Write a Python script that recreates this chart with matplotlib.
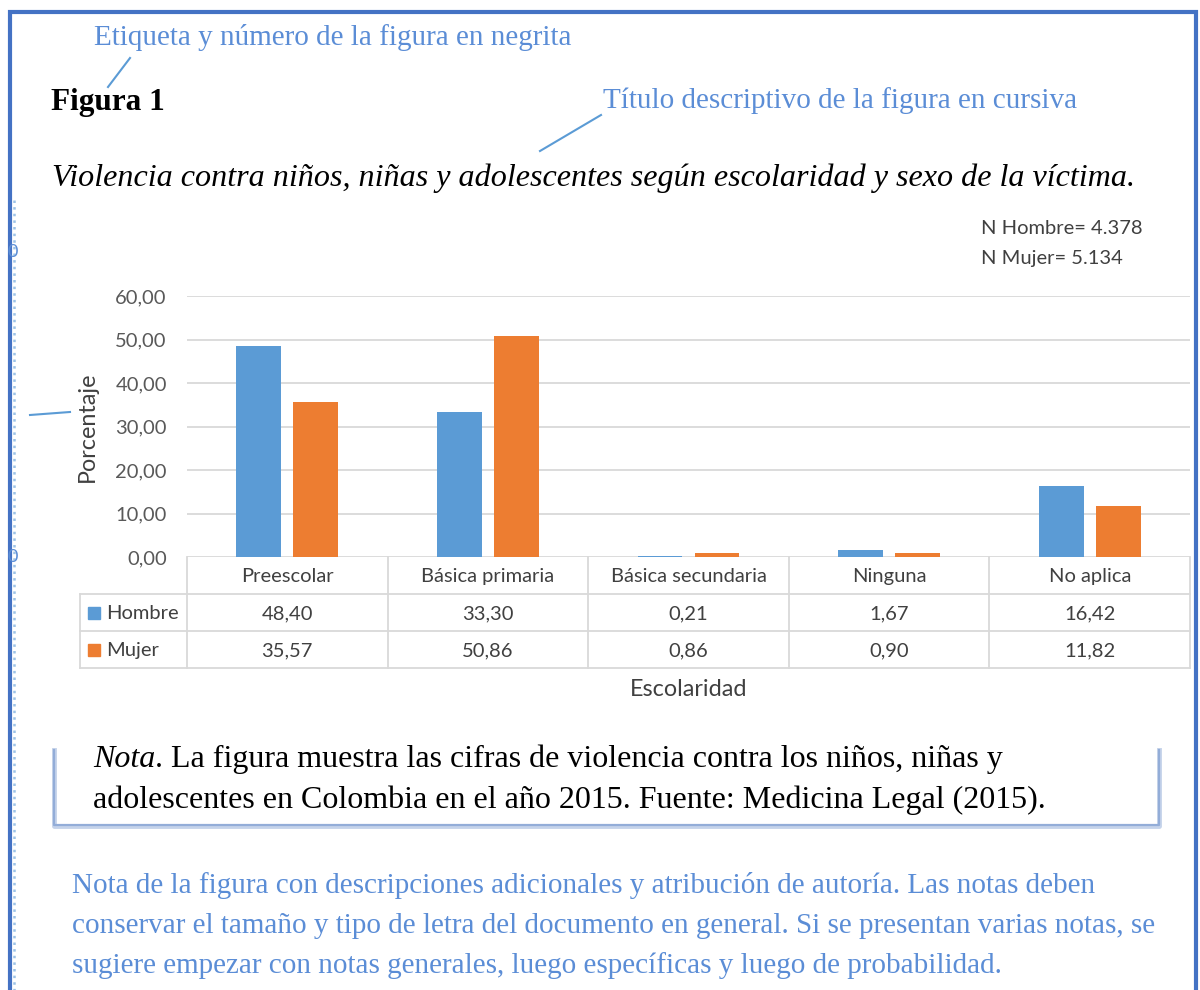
import matplotlib
matplotlib.use("Agg")
import matplotlib.pyplot as plt
from matplotlib.transforms import blended_transform_factory
from matplotlib.patches import Rectangle
import numpy as np

# data
categorias = ["Preescolar", "Básica primaria", "Básica secundaria", "Ninguna", "No aplica"]
hombre = [48.40, 33.30, 0.21, 1.67, 16.42]
mujer = [35.57, 50.86, 0.86, 0.90, 11.82]
series = ["Hombre", "Mujer"]
yticks = [0, 10, 20, 30, 40, 50, 60]

# colours / fonts
c_hombre = "#5B9BD5"
c_mujer = "#ED7D31"
c_blue_txt = "#5B8DD6"
c_frame = "#4472C4"
c_grid = "#D9D9D9"
c_txt = "#404040"
serif = "Liberation Serif"
sans = "Lato"

W, H = 1200, 990
fig = plt.figure(figsize=(W / 100, H / 100), dpi=100)

# overlay axes in pixel coordinates for the document parts
ov = fig.add_axes([0, 0, 1, 1])
ov.set_xlim(0, W)
ov.set_ylim(H, 0)
ov.axis("off")
ov.set_zorder(0)

# chart axes
x0, x1, ytop, ybot = 187, 1190, 296, 557
ax = fig.add_axes([x0 / W, 1 - ybot / H, (x1 - x0) / W, (ybot - ytop) / H])
ax.set_zorder(1)
ax.patch.set_alpha(0)
x = np.arange(len(categorias))
bw = 0.224
off = 0.142
ax.bar(x - off, hombre, bw, color=c_hombre, zorder=3)
ax.bar(x + off, mujer, bw, color=c_mujer, zorder=3)
ax.set_xlim(-0.5, len(categorias) - 0.5)
ax.set_ylim(0, 60)
ax.set_yticks(yticks)
ax.set_yticklabels([f"{v:.2f}".replace(".", ",") for v in yticks],
                   fontfamily=sans, fontsize=14.5, color="#595959")
ax.tick_params(axis="y", length=0, pad=14.5)
ax.set_xticks([])
ax.grid(axis="y", color=c_grid, lw=1.3, zorder=0)
for s in ax.spines.values():
    s.set_visible(False)
ax.set_ylabel("Porcentaje", fontfamily=sans, fontsize=16.8, color=c_txt, va="center")
ax.yaxis.set_label_coords((87 - x0) / (x1 - x0), 0.5)

# data table under the chart (x from category scale, y in pixels)
tr = blended_transform_factory(ax.transData, ov.transData)
rows = [557, 594, 631, 668]
left_leg = 80
edges = np.arange(len(categorias) + 1) - 0.5
for e in edges:
    ov.plot([e, e], [rows[0], rows[-1]], color=c_grid, lw=1.3, transform=tr)
ov.plot([left_leg, left_leg], [rows[1], rows[-1]], color=c_grid, lw=1.3)
for r in rows[1:]:
    ov.plot([left_leg, x1], [r, r], color=c_grid, lw=1.3)
for i, cat in enumerate(categorias):
    ov.text(i, (rows[0] + rows[1]) / 2 + 1, cat, transform=tr, ha="center", va="center",
            fontfamily=sans, fontsize=14.5, color=c_txt)
    ov.text(i, (rows[1] + rows[2]) / 2 + 1, f"{hombre[i]:.2f}".replace(".", ","), transform=tr,
            ha="center", va="center", fontfamily=sans, fontsize=14.5, color=c_txt)
    ov.text(i, (rows[2] + rows[3]) / 2 + 1, f"{mujer[i]:.2f}".replace(".", ","), transform=tr,
            ha="center", va="center", fontfamily=sans, fontsize=14.5, color=c_txt)
for k, (name, col) in enumerate(zip(series, [c_hombre, c_mujer])):
    yc = (rows[k + 1] + rows[k + 2]) / 2
    ov.add_patch(Rectangle((88, yc - 6), 12, 12, color=col))
    ov.text(106, yc + 1, name, ha="left", va="center", fontfamily=sans, fontsize=14.5, color=c_txt)

ov.text(689, 690, "Escolaridad", ha="center", va="center", fontfamily=sans, fontsize=16.8, color=c_txt)
ov.text(981, 234, "N Hombre= 4.378", ha="left", va="baseline", fontfamily=sans, fontsize=14.5, color=c_txt)
ov.text(981, 264, "N Mujer= 5.134", ha="left", va="baseline", fontfamily=sans, fontsize=14.5, color=c_txt)

# document frame
ov.plot([10, 10, 1196, 1196], [H + 5, 12, 12, H + 5], color=c_frame, lw=3, solid_joinstyle="miter")
ov.plot([13.5, 13.5], [200, H], color="#9DC3E6", lw=1.8, ls=":")
clip = Rectangle((13, 0), 20, H, transform=ov.transData)
for yy in [252, 557]:
    t = ov.text(8, yy, "0", ha="left", va="center", fontfamily=sans, fontsize=13, color=c_blue_txt)
    t.set_clip_path(clip)

# annotations
ov.text(94, 45, "Etiqueta y número de la figura en negrita", fontfamily=serif, fontsize=21,
        color=c_blue_txt, va="baseline")
ov.plot([130, 108], [58, 87], color=c_hombre, lw=1.5)
ov.text(51, 110, "Figura 1", fontfamily=serif, fontsize=22.5, fontweight="bold", color="black", va="baseline")
ov.text(603, 108, "Título descriptivo de la figura en cursiva", fontfamily=serif, fontsize=21,
        color=c_blue_txt, va="baseline")
ov.plot([601, 540], [115, 151], color=c_hombre, lw=1.5)
ov.text(52, 186, "Violencia contra niños, niñas y adolescentes según escolaridad y sexo de la víctima.",
        fontfamily=serif, fontsize=23.1, fontstyle="italic", color="black", va="baseline")
ov.plot([30, 70], [415, 412], color=c_hombre, lw=1.5)

# nota box
ov.plot([54, 54, 1159, 1159], [750, 826, 826, 750], color="#C5D3EA", lw=3.5)
ov.plot([54, 54, 1159, 1159], [750, 825, 825, 750], color="#93ADD8", lw=1.6)
t_nota = ov.text(93, 767, "Nota", fontfamily=serif, fontsize=23, fontstyle="italic", va="baseline")
fig.canvas.draw()
nx = 93 + t_nota.get_window_extent().width
ov.text(nx, 767, ". La figura muestra las cifras de violencia contra los niños, niñas y",
        fontfamily=serif, fontsize=23, va="baseline")
ov.text(93, 808, "adolescentes en Colombia en el año 2015. Fuente: Medicina Legal (2015).",
        fontfamily=serif, fontsize=23, va="baseline")

nota_lines = [
    "Nota de la figura con descripciones adicionales y atribución de autoría. Las notas deben",
    "conservar el tamaño y tipo de letra del documento en general. Si se presentan varias notas, se",
    "sugiere empezar con notas generales, luego específicas y luego de probabilidad.",
]
for i, line in enumerate(nota_lines):
    ov.text(72, 893 + 40 * i, line, fontfamily=serif, fontsize=21, color=c_blue_txt, va="baseline")

fig.savefig("out.png", dpi=100)
